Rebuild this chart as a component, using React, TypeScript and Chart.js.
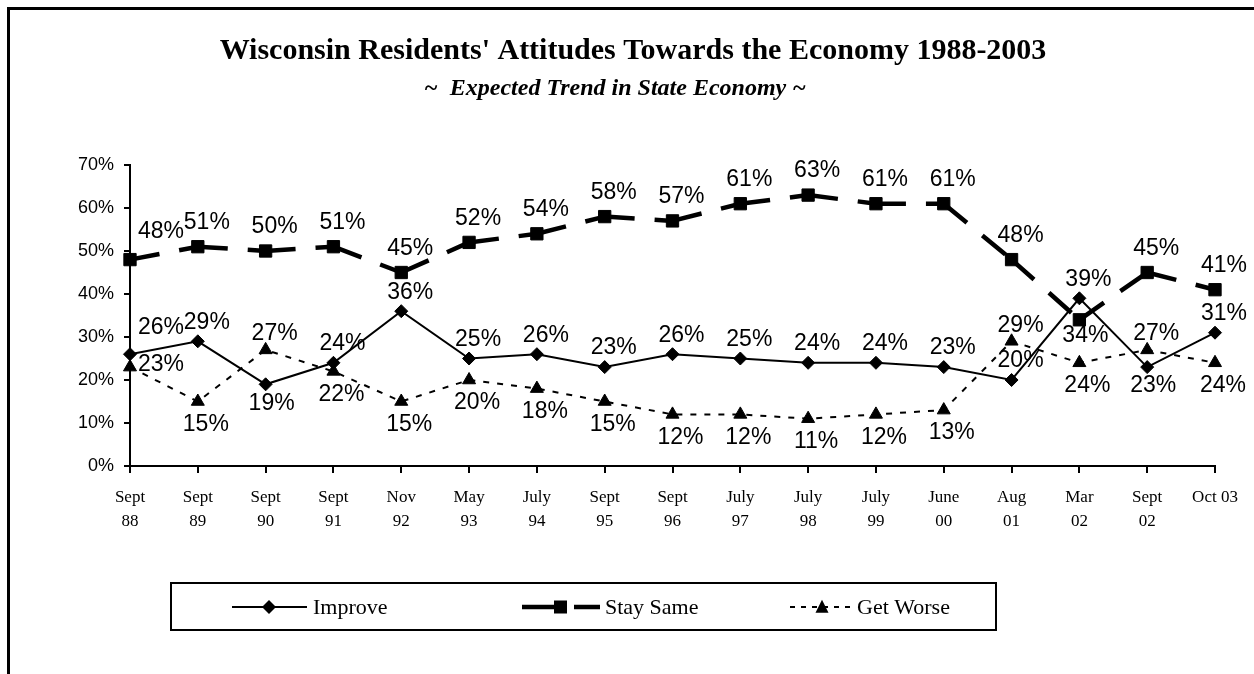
import React, { useEffect, useRef } from 'react';
import { Chart, registerables } from 'chart.js';

Chart.register(...registerables);

const titleText = "Wisconsin Residents' Attitudes Towards the Economy 1988-2003";
const subtitleText = '~  Expected Trend in State Economy ~';

const categories: (string | string[])[] = [
  ['Sept', '88'], ['Sept', '89'], ['Sept', '90'], ['Sept', '91'], ['Nov', '92'],
  ['May', '93'], ['July', '94'], ['Sept', '95'], ['Sept', '96'], ['July', '97'],
  ['July', '98'], ['July', '99'], ['June', '00'], ['Aug', '01'], ['Mar', '02'],
  ['Sept', '02'], ['Oct 03'],
];

const improve = [26, 29, 19, 24, 36, 25, 26, 23, 26, 25, 24, 24, 23, 20, 39, 23, 31];
const staySame = [48, 51, 50, 51, 45, 52, 54, 58, 57, 61, 63, 61, 61, 48, 34, 45, 41];
const getWorse = [23, 15, 27, 22, 15, 20, 18, 15, 12, 12, 11, 12, 13, 29, 24, 27, 24];

// label placement codes: a = above, b = below, r = right, ar = above-right
const improvePos = ['ar', 'a', 'b', 'a', 'a', 'a', 'a', 'a', 'a', 'a', 'a', 'a', 'a', 'a', 'a', 'b', 'a'];
const staySamePos = ['ar', 'a', 'a', 'a', 'a', 'a', 'a', 'a', 'a', 'a', 'a', 'a', 'a', 'a', 'b', 'a', 'a'];
const getWorsePos = ['r', 'b', 'a', 'b', 'b', 'b', 'b', 'b', 'b', 'b', 'b', 'b', 'b', 'a', 'b', 'a', 'b'];

const yTicks = [0, 10, 20, 30, 40, 50, 60, 70];
const seriesNames = ['Improve', 'Stay Same', 'Get Worse'];

const SERIF = '"Liberation Serif", "Times New Roman", serif';
const SANS = '"Liberation Sans", Arial, sans-serif';

// per-series label offsets (dx, dy) for each placement code
const OFFSETS: Record<string, [number, number]>[] = [
  { a: [9, -19], b: [6, 19], r: [31, -2], ar: [31, -27] },
  { a: [9, -24], b: [6, 16], r: [31, -2], ar: [31, -28] },
  { a: [9, -16], b: [8, 23], r: [31, -2], ar: [31, -28] },
];

const labelPlugin = {
  id: 'pctLabels',
  afterDatasetsDraw(chart: any) {
    const ctx = chart.ctx;
    const posSets = [improvePos, staySamePos, getWorsePos];
    ctx.save();
    ctx.font = `23px ${SANS}`;
    ctx.fillStyle = '#000';
    ctx.textAlign = 'center';
    ctx.textBaseline = 'middle';
    chart.data.datasets.forEach((ds: any, di: number) => {
      const meta = chart.getDatasetMeta(di);
      meta.data.forEach((pt: any, i: number) => {
        const [dx, dy] = OFFSETS[di][posSets[di][i]];
        ctx.fillText(`${ds.data[i]}%`, pt.x + dx, pt.y + dy);
      });
    });
    ctx.restore();
  },
};

function diamond(ctx: CanvasRenderingContext2D, x: number, y: number, r: number) {
  ctx.beginPath();
  ctx.moveTo(x, y - r);
  ctx.lineTo(x + r, y);
  ctx.lineTo(x, y + r);
  ctx.lineTo(x - r, y);
  ctx.closePath();
  ctx.fill();
}

function triangle(ctx: CanvasRenderingContext2D, x: number, y: number, s: number) {
  ctx.beginPath();
  ctx.moveTo(x, y - s * 0.55);
  ctx.lineTo(x + s / 2, y + s * 0.45);
  ctx.lineTo(x - s / 2, y + s * 0.45);
  ctx.closePath();
  ctx.fill();
}

const decorPlugin = {
  id: 'decor',
  beforeDraw(chart: any) {
    const ctx = chart.ctx;
    ctx.save();
    ctx.fillStyle = '#fff';
    ctx.fillRect(0, 0, chart.width, chart.height);
    ctx.strokeStyle = '#000';
    ctx.lineWidth = 3;
    ctx.beginPath();
    ctx.moveTo(1.5, chart.height + 5);
    ctx.lineTo(1.5, 1.5);
    ctx.lineTo(chart.width + 5, 1.5);
    ctx.stroke();
    ctx.restore();
  },
  afterDraw(chart: any) {
    const ctx = chart.ctx;
    ctx.save();
    ctx.fillStyle = '#000';
    ctx.textAlign = 'center';
    ctx.textBaseline = 'middle';
    ctx.font = `bold 30px ${SERIF}`;
    ctx.fillText(titleText, 626, 44);
    ctx.font = `italic bold 24px ${SERIF}`;
    ctx.fillText(subtitleText, 608, 82);

    // legend box
    ctx.strokeStyle = '#000';
    ctx.lineWidth = 2;
    ctx.strokeRect(164, 576, 825, 47);
    const ly = 600;
    ctx.font = `22px ${SERIF}`;
    ctx.textAlign = 'left';

    // Improve
    ctx.lineWidth = 2;
    ctx.setLineDash([]);
    ctx.beginPath();
    ctx.moveTo(225, ly);
    ctx.lineTo(300, ly);
    ctx.stroke();
    diamond(ctx, 262, ly, 7);
    ctx.fillText(seriesNames[0], 306, ly + 1);

    // Stay Same
    ctx.lineWidth = 4.5;
    ctx.beginPath();
    ctx.moveTo(515, ly);
    ctx.lineTo(547, ly);
    ctx.moveTo(567, ly);
    ctx.lineTo(593, ly);
    ctx.stroke();
    ctx.fillRect(547, ly - 6.5, 13, 13);
    ctx.fillText(seriesNames[1], 598, ly + 1);

    // Get Worse
    ctx.lineWidth = 2;
    ctx.setLineDash([5, 6]);
    ctx.beginPath();
    ctx.moveTo(783, ly);
    ctx.lineTo(846, ly);
    ctx.stroke();
    ctx.setLineDash([]);
    triangle(ctx, 815, ly, 13);
    ctx.fillText(seriesNames[2], 850, ly + 1);
    ctx.restore();
  },
};

export default function App() {
  const canvasRef = useRef<HTMLCanvasElement | null>(null);

  useEffect(() => {
    if (!canvasRef.current) return;
    const chart = new Chart(canvasRef.current, {
      type: 'line',
      data: {
        labels: categories as any,
        datasets: [
          {
            label: seriesNames[0],
            data: improve,
            borderColor: '#000',
            backgroundColor: '#000',
            borderWidth: 2,
            pointStyle: 'rectRot',
            pointRadius: 6.5,
            pointBorderWidth: 1,
            tension: 0,
            clip: false as any,
          },
          {
            label: seriesNames[1],
            data: staySame,
            borderColor: '#000',
            backgroundColor: '#000',
            borderWidth: 4.5,
            borderDash: [30, 20],
            pointStyle: 'rect',
            pointRadius: 8.7,
            pointBorderWidth: 1,
            tension: 0,
            clip: false as any,
            segment: {
              borderDashOffset: (c: any) => c.p0DataIndex * 0.0001,
            },
          },
          {
            label: seriesNames[2],
            data: getWorse,
            borderColor: '#000',
            backgroundColor: '#000',
            borderWidth: 2,
            borderDash: [6, 8],
            pointStyle: 'triangle',
            pointRadius: 7.5,
            pointBorderWidth: 1,
            tension: 0,
            clip: false as any,
          },
        ],
      },
      options: {
        animation: false,
        responsive: true,
        maintainAspectRatio: false,
        layout: { padding: { left: 0, right: 39, top: 158, bottom: 128 } },
        plugins: {
          legend: { display: false },
          tooltip: { enabled: false },
          title: { display: false },
        },
        scales: {
          x: {
            offset: false,
            grid: {
              display: true,
              drawOnChartArea: false,
              drawTicks: true,
              tickLength: 7,
              color: '#000',
              lineWidth: 2,
            },
            border: { display: true, color: '#000', width: 2 },
            ticks: {
              color: '#000',
              font: { family: SERIF, size: 17, lineHeight: 1.45 },
              padding: 12,
              maxRotation: 0,
              autoSkip: false,
            },
            afterFit: (s: any) => { s.height = 80; },
          },
          y: {
            min: yTicks[0],
            max: yTicks[yTicks.length - 1],
            afterBuildTicks: (s: any) => { s.ticks = yTicks.map((v) => ({ value: v })); },
            grid: {
              display: true,
              drawOnChartArea: false,
              drawTicks: true,
              tickLength: 6,
              color: '#000',
              lineWidth: 2,
            },
            border: { display: true, color: '#000', width: 2 },
            ticks: {
              color: '#000',
              font: { family: SANS, size: 18 },
              padding: 10,
              callback: (v: any) => `${v}%`,
            },
            afterFit: (s: any) => { s.width = 123; },
          },
        },
      },
      plugins: [decorPlugin, labelPlugin],
    });
    return () => chart.destroy();
  }, []);

  return (
    <div style={{ position: 'absolute', left: 7, top: 7, width: 1247, height: 667 }}>
      <canvas ref={canvasRef} />
    </div>
  );
}
